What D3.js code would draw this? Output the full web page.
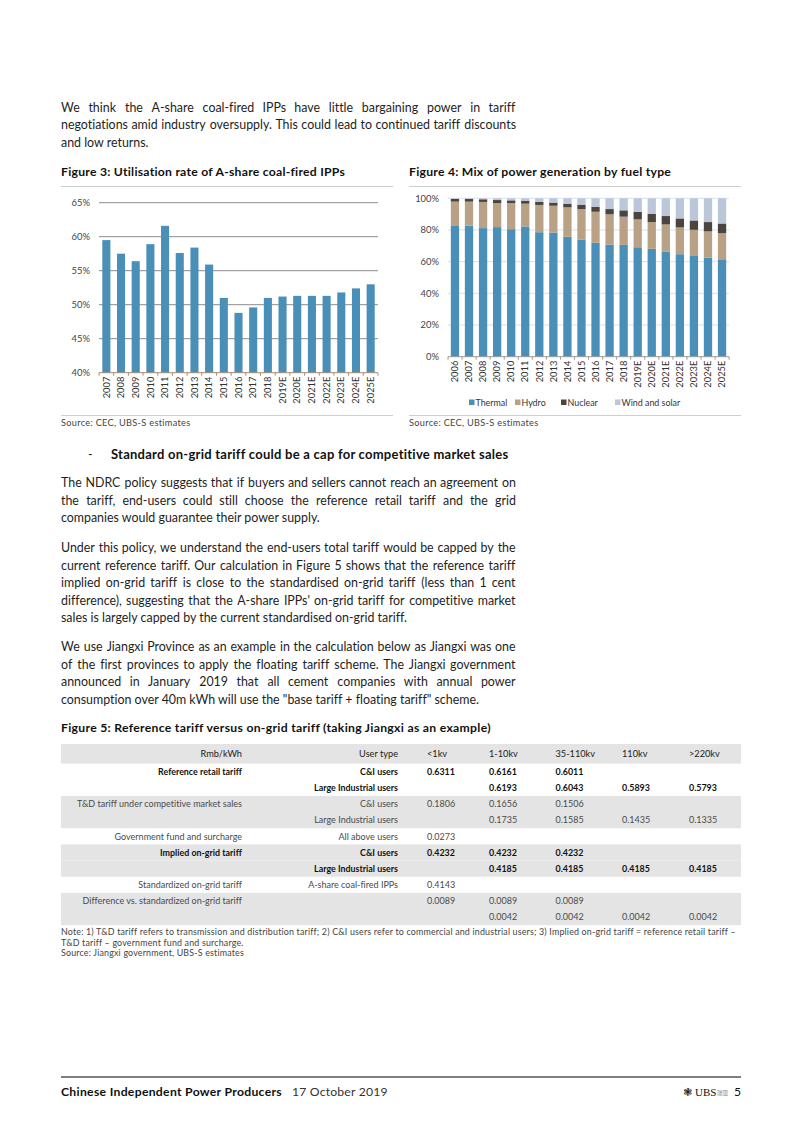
<!DOCTYPE html>
<html><head><meta charset="utf-8">
<script src="https://cdn.jsdelivr.net/npm/d3@7"></script>
<style>
body{margin:0;background:#fff;}
svg{display:block;font-family:Lato,"Open Sans",sans-serif;font-variant-ligatures:none;}
</style></head><body>
<svg id="page" width="802" height="1133"></svg>
<script>
// ---------- DATA ----------
const years3 = ["2007","2008","2009","2010","2011","2012","2013","2014","2015","2016","2017","2018","2019E","2020E","2021E","2022E","2023E","2024E","2025E"];
const utilisation = [59.5,57.5,56.4,58.9,61.6,57.6,58.4,55.9,51.0,48.8,49.6,51.0,51.2,51.3,51.3,51.3,51.8,52.4,53.0];
const util_ticks = [40,45,50,55,60,65];

const years4 = ["2006","2007","2008","2009","2010","2011","2012","2013","2014","2015","2016","2017","2018","2019E","2020E","2021E","2022E","2023E","2024E","2025E"];
const thermal = [82.5,82.7,81.2,81.8,80.5,82.2,78.6,78.4,75.7,74.0,71.9,70.8,70.6,69.1,68.1,66.4,64.7,63.6,62.6,61.5];
const hydro   = [15.4,15.2,16.5,15.2,16.5,14.4,17.2,16.9,18.6,19.2,19.6,19.1,17.8,17.6,16.9,17.1,16.9,16.5,16.5,16.5];
const nuclear = [1.7,1.7,1.7,1.9,1.7,1.9,1.9,2.0,2.3,2.8,3.2,3.3,4.0,4.8,5.3,5.3,5.7,5.9,5.9,6.1];
const windSolar = [0.4,0.4,0.6,1.1,1.3,1.5,2.3,2.7,3.4,4.0,5.3,6.8,7.6,8.5,9.7,11.2,12.7,14.0,15.0,15.9];
const mix_keys = ["Thermal","Hydro","Nuclear","Wind and solar"];
const mix_ticks = [0,20,40,60,80,100];

const tableHeader = ["Rmb/kWh","User type","<1kv","1-10kv","35-110kv","110kv",">220kv"];
const rowLabels = ["Reference retail tariff","","T&D tariff under competitive market sales","","Government fund and surcharge","Implied on-grid tariff","","Standardized on-grid tariff","Difference vs. standardized on-grid tariff",""];
const userTypes = ["C&I users","Large Industrial users","C&I users","Large Industrial users","All above users","C&I users","Large Industrial users","A-share coal-fired IPPs","",""];
const col_lt1kv   = ["0.6311","","0.1806","","0.0273","0.4232","","0.4143","0.0089",""];
const col_1_10kv  = ["0.6161","0.6193","0.1656","0.1735","","0.4232","0.4185","","0.0089","0.0042"];
const col_35_110kv= ["0.6011","0.6043","0.1506","0.1585","","0.4232","0.4185","","0.0089","0.0042"];
const col_110kv   = ["","0.5893","","0.1435","","","0.4185","","","0.0042"];
const col_220kv   = ["","0.5793","","0.1335","","","0.4185","","","0.0042"];
const boldRows = [0,1,5,6];
const shadedRows = [2,3,5,6,8,9];

// ---------- PAGE ----------
const svg = d3.select("#page");
const TXT = "#1e1e1e";
const BODY = 12.4;

function justifyLine(text, x, y, width, justify) {
  if (!justify) {
    svg.append("text").attr("x", x).attr("y", y).attr("font-size", BODY).attr("fill", TXT).text(text);
    return;
  }
  const words = text.split(" ");
  const nodes = words.map(w => svg.append("text").attr("y", y).attr("font-size", BODY).attr("fill", TXT).text(w));
  const widths = nodes.map(n => n.node().getBBox().width);
  const gap = (width - d3.sum(widths)) / (words.length - 1);
  let cx = x;
  nodes.forEach((n, i) => { n.attr("x", cx); cx += widths[i] + gap; });
}
function para(lines, y0, lh) {
  lines.forEach((l, i) => justifyLine(l, 61, y0 + i*lh, 455, i < lines.length - 1));
}

para(["We think the A-share coal-fired IPPs have little bargaining power in tariff",
      "negotiations amid industry oversupply. This could lead to continued tariff discounts",
      "and low returns."], 111.5, 17.6);

// figure titles
function figTitle(text, x, y) {
  svg.append("text").attr("x", x).attr("y", y).attr("font-size", 12.2).attr("letter-spacing", 0.25)
    .attr("font-weight", "bold").attr("fill", "#111").text(text);
}
figTitle("Figure 3: Utilisation rate of A-share coal-fired IPPs", 61, 175.5);
figTitle("Figure 4: Mix of power generation by fuel type", 409, 175.5);
[[61,393],[409,741]].forEach(([a,b]) => {
  svg.append("line").attr("x1",a).attr("x2",b).attr("y1",186.5).attr("y2",186.5).attr("stroke","#cfcfcf").attr("stroke-width",1);
  svg.append("line").attr("x1",a).attr("x2",b).attr("y1",415.5).attr("y2",415.5).attr("stroke","#cfcfcf").attr("stroke-width",1);
  svg.append("text").attr("x",a).attr("y",426).attr("font-size",9.2).attr("letter-spacing",0.3).attr("fill","#444").text("Source: CEC, UBS-S estimates");
});

// ---------- FIGURE 3 ----------
{
  const x = d3.scaleBand().domain(years3).range([99, 378]).paddingInner(0.45).paddingOuter(0.225);
  const y = d3.scaleLinear().domain([40, 65]).range([372.7, 202.7]);
  const g = svg.append("g");
  g.selectAll("line.grid").data(util_ticks.filter(d => d > 40)).join("line")
    .attr("x1", 99).attr("x2", 378).attr("y1", d => y(d)).attr("y2", d => y(d))
    .attr("stroke", "#8c8c8c").attr("stroke-width", 1);
  g.selectAll("text.yl").data(util_ticks).join("text")
    .attr("x", 90).attr("y", d => y(d) + 3.2).attr("text-anchor", "end")
    .attr("font-size", 9.4).attr("fill", "#444").text(d => d + "%");
  g.selectAll("rect").data(years3).join("rect")
    .attr("x", d => x(d)).attr("width", x.bandwidth())
    .attr("y", (d, i) => y(utilisation[i])).attr("height", (d, i) => y(40) - y(utilisation[i]))
    .attr("fill", "#4a8fb8");
  g.append("line").attr("x1", 99).attr("x2", 378).attr("y1", y(40)).attr("y2", y(40)).attr("stroke", "#a58c74").attr("stroke-width", 1);
  const step = x.step();
  d3.range(years3.length + 1).forEach(i => {
    const xx = 99 + i * step;
    g.append("line").attr("x1", xx).attr("x2", xx).attr("y1", y(40)).attr("y2", y(40) + 3).attr("stroke", "#a58c74");
  });
  g.selectAll("text.xl").data(years3).join("text")
    .attr("transform", d => `translate(${x(d) + x.bandwidth()/2 + 3.2},${y(40) + 4}) rotate(-90)`)
    .attr("text-anchor", "end").attr("font-size", 9.3).attr("fill", "#333").text(d => d);
}

// ---------- FIGURE 4 ----------
{
  const x = d3.scaleBand().domain(years4).range([448, 729]).paddingInner(0.41).paddingOuter(0.2);
  const y = d3.scaleLinear().domain([0, 100]).range([356.7, 198.3]);
  const colors = d3.scaleOrdinal().domain(mix_keys).range(["#4a8fb8", "#b9a186", "#4b4540", "#bcc6d9"]);
  const rows = years4.map((yr, i) => ({year: yr, "Thermal": thermal[i], "Hydro": hydro[i], "Nuclear": nuclear[i], "Wind and solar": windSolar[i]}));
  const series = d3.stack().keys(mix_keys)(rows);
  const g = svg.append("g");
  g.selectAll("line.grid").data(mix_ticks.filter(d => d > 0)).join("line")
    .attr("x1", 448).attr("x2", 729).attr("y1", d => y(d)).attr("y2", d => y(d))
    .attr("stroke", "#d4e2ee").attr("stroke-width", 1);
  g.selectAll("text.yl").data(mix_ticks).join("text")
    .attr("x", 439).attr("y", d => y(d) + 3.2).attr("text-anchor", "end")
    .attr("font-size", 9.4).attr("fill", "#444").text(d => d + "%");
  g.selectAll("g.s").data(series).join("g").attr("fill", d => colors(d.key))
    .selectAll("rect").data(d => d).join("rect")
    .attr("x", d => x(d.data.year)).attr("width", x.bandwidth())
    .attr("y", d => y(d[1])).attr("height", d => y(d[0]) - y(d[1]));
  g.append("line").attr("x1", 448).attr("x2", 729).attr("y1", y(0)).attr("y2", y(0)).attr("stroke", "#9a9a9a");
  const step = x.step();
  d3.range(years4.length + 1).forEach(i => {
    const xx = 448 + i * step;
    g.append("line").attr("x1", xx).attr("x2", xx).attr("y1", y(0)).attr("y2", y(0) + 3).attr("stroke", "#9a9a9a");
  });
  g.selectAll("text.xl").data(years4).join("text")
    .attr("transform", d => `translate(${x(d) + x.bandwidth()/2 + 3.2},${y(0) + 4}) rotate(-90)`)
    .attr("text-anchor", "end").attr("font-size", 9.3).attr("fill", "#333").text(d => d);
  const legX = [469, 515, 561, 615];
  mix_keys.forEach((k, i) => {
    g.append("rect").attr("x", legX[i]).attr("y", 399.5).attr("width", 5.5).attr("height", 5.5).attr("fill", colors(k));
    g.append("text").attr("x", legX[i] + 6.5).attr("y", 405.5).attr("font-size", 8.9).attr("fill", "#333").text(k);
  });
}

// ---------- TEXT ----------
svg.append("text").attr("x", 88).attr("y", 458.5).attr("font-size", BODY).attr("fill", TXT).text("-");
svg.append("text").attr("x", 111).attr("y", 458.5).attr("font-size", 13).attr("letter-spacing", 0.25).attr("font-weight", "bold").attr("fill", "#111")
  .text("Standard on-grid tariff could be a cap for competitive market sales");

para(["The NDRC policy suggests that if buyers and sellers cannot reach an agreement on",
      "the tariff, end-users could still choose the reference retail tariff and the grid",
      "companies would guarantee their power supply."], 487, 17.6);
para(["Under this policy, we understand the end-users total tariff would be capped by the",
      "current reference tariff. Our calculation in Figure 5 shows that the reference tariff",
      "implied on-grid tariff is close to the standardised on-grid tariff (less than 1 cent",
      "difference), suggesting that the A-share IPPs' on-grid tariff for competitive market",
      "sales is largely capped by the current standardised on-grid tariff."], 552, 17.5);
para(["We use Jiangxi Province as an example in the calculation below as Jiangxi was one",
      "of the first provinces to apply the floating tariff scheme. The Jiangxi government",
      "announced in January 2019 that all cement companies with annual power",
      "consumption over 40m kWh will use the \"base tariff + floating tariff\" scheme."], 651, 17.5);

// ---------- FIGURE 5 TABLE ----------
svg.append("text").attr("x", 61).attr("y", 731.5).attr("font-size", 12.2).attr("letter-spacing", 0.3)
  .attr("font-weight", "bold").attr("fill", "#111").text("Figure 5: Reference tariff versus on-grid tariff (taking Jiangxi as an example)");
{
  const rowY = d3.scaleLinear().domain([0, 10]).range([763.6, 925.2]); // row boundaries
  const g = svg.append("g");
  g.append("rect").attr("x", 61).attr("y", 744).attr("width", 680).attr("height", rowY(0) - 744).attr("fill", "#e4e4e4");
  g.selectAll("rect.sh").data(shadedRows).join("rect")
    .attr("x", 61).attr("y", d => rowY(d)).attr("width", 680).attr("height", rowY(1) - rowY(0)).attr("fill", "#e4e4e4");
  const hdrY = 757;
  const colX = [242, 398, 427, 489, 555.5, 622, 689];
  const anchors = ["end", "end", "start", "start", "start", "start", "start"];
  tableHeader.forEach((h, i) => g.append("text").attr("x", colX[i]).attr("y", hdrY).attr("text-anchor", anchors[i])
    .attr("font-size", 9.2).attr("fill", "#222").text(h));
  const cols = [rowLabels, userTypes, col_lt1kv, col_1_10kv, col_35_110kv, col_110kv, col_220kv];
  cols.forEach((col, ci) => {
    col.forEach((v, ri) => {
      if (!v) return;
      const b = boldRows.includes(ri);
      g.append("text").attr("x", colX[ci]).attr("y", (rowY(ri) + rowY(ri + 1)) / 2 + 3.3)
        .attr("text-anchor", anchors[ci]).attr("font-size", b ? 8.9 : 9.0)
        .attr("font-weight", b ? "bold" : "normal").attr("fill", b ? "#111" : "#4a4a4a").text(v);
    });
  });
}
[["Note: 1) T&D tariff refers to transmission and distribution tariff; 2) C&I users refer to commercial and industrial users; 3) Implied on-grid tariff = reference retail tariff \u2013", 935],
 ["T&D tariff \u2013 government fund and surcharge.", 945.5],
 ["Source: Jiangxi government, UBS-S estimates", 956]].forEach(([t, yy]) =>
  svg.append("text").attr("x", 61).attr("y", yy).attr("font-size", 8.9).attr("letter-spacing", 0.18).attr("fill", "#444").text(t));

// ---------- FOOTER ----------
svg.append("line").attr("x1", 61).attr("x2", 741).attr("y1", 1077).attr("y2", 1077).attr("stroke", "#555").attr("stroke-width", 1.4);
const ft = svg.append("text").attr("x", 61).attr("y", 1096).attr("font-size", 12.2).attr("fill", "#111");
ft.append("tspan").attr("font-weight", "bold").attr("letter-spacing", 0.3).text("Chinese Independent Power Producers");
ft.append("tspan").attr("dx", 10).attr("fill", "#333").attr("letter-spacing", 0.2).text("17 October 2019");
svg.append("text").attr("x", 741).attr("y", 1096).attr("text-anchor", "end").attr("font-size", 12.2).attr("fill", "#111").text("5");
svg.append("text").attr("x", 717).attr("y", 1094.5).attr("font-family", "Noto Sans CJK SC").attr("font-size", 5.5).attr("fill", "#888").text("瑞银");
svg.append("text").attr("x", 695).attr("y", 1096).attr("font-family", "Liberation Serif").attr("font-size", 11).attr("fill", "#111").text("UBS");
svg.append("text").attr("x", 683).attr("y", 1095.5).attr("font-family", "DejaVu Sans").attr("font-size", 11).attr("fill", "#222").text("\u2743");
</script>
</body></html>
